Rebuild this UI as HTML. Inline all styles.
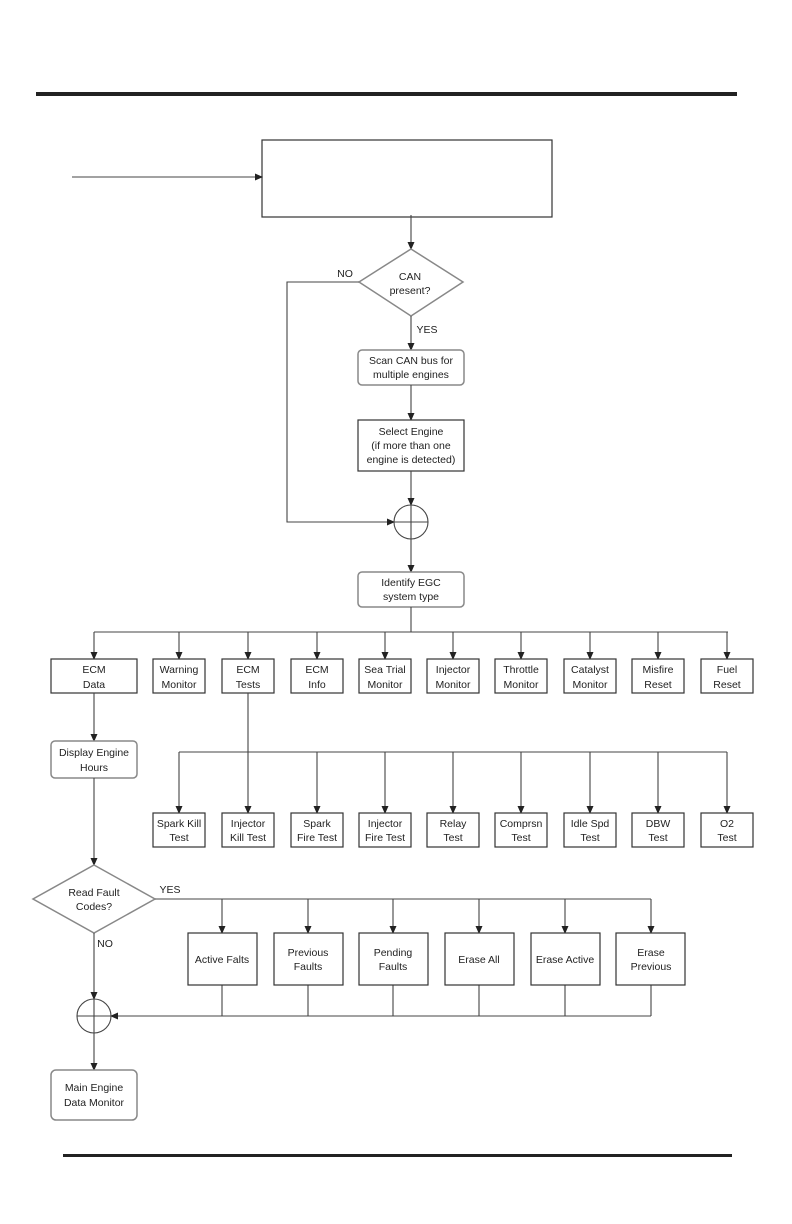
<!DOCTYPE html>
<html><head><meta charset="utf-8"><style>
html,body{margin:0;padding:0;background:#fff}
svg{display:block}
text{font-family:"Liberation Sans",sans-serif;font-size:10.5px;fill:#222;text-anchor:middle}
.b{fill:#fff;stroke:#333;stroke-width:1.2}
.r{fill:#fff;stroke:#888;stroke-width:1.5}
.l{stroke:#444;stroke-width:1.1;fill:none}
</style></head><body>
<svg width="792" height="1224" viewBox="0 0 792 1224" xmlns="http://www.w3.org/2000/svg">
<defs><marker id="a" markerWidth="8" markerHeight="8" refX="7" refY="4" orient="auto" markerUnits="userSpaceOnUse"><path d="M0,0.5 L8,4 L0,7.5z" fill="#222"/></marker></defs>
<rect x="36" y="92" width="701" height="4" fill="#222"/>
<rect x="63" y="1154" width="669" height="3" fill="#222"/>

<rect class="b" x="262" y="140" width="290" height="77"/>
<line class="l" x1="72" y1="177" x2="262" y2="177" marker-end="url(#a)"/>
<line class="l" x1="411" y1="215" x2="411" y2="249" marker-end="url(#a)"/>
<polygon class="r" points="411,249 463,282 411,316 359,282"/>
<text x="410" y="280">CAN</text><text x="410" y="294">present?</text>
<text x="345" y="277">NO</text>
<polyline class="l" points="359,282 287,282 287,522 394,522" marker-end="url(#a)"/>
<text x="427" y="333">YES</text>
<line class="l" x1="411" y1="316" x2="411" y2="350" marker-end="url(#a)"/>
<rect class="r" x="358" y="350" width="106" height="35" rx="4"/>
<text x="411" y="364">Scan CAN bus for</text><text x="411" y="378">multiple engines</text>
<line class="l" x1="411" y1="385" x2="411" y2="420" marker-end="url(#a)"/>
<rect class="b" x="358" y="420" width="106" height="51"/>
<text x="411" y="435">Select Engine</text><text x="411" y="449">(if more than one</text><text x="411" y="463">engine is detected)</text>
<line class="l" x1="411" y1="471" x2="411" y2="505" marker-end="url(#a)"/>
<circle class="l" cx="411" cy="522" r="17"/>
<line class="l" x1="394" y1="522" x2="428" y2="522"/>
<line class="l" x1="411" y1="505" x2="411" y2="539"/>
<line class="l" x1="411" y1="539" x2="411" y2="572" marker-end="url(#a)"/>
<rect class="r" x="358" y="572" width="106" height="35" rx="4"/>
<text x="411" y="586">Identify EGC</text><text x="411" y="600">system type</text>
<line class="l" x1="411" y1="607" x2="411" y2="632"/>
<line class="l" x1="94" y1="632" x2="728" y2="632"/>
<g class="l">
<line x1="94" y1="632" x2="94" y2="659" marker-end="url(#a)"/>
<line x1="179" y1="632" x2="179" y2="659" marker-end="url(#a)"/>
<line x1="248" y1="632" x2="248" y2="659" marker-end="url(#a)"/>
<line x1="317" y1="632" x2="317" y2="659" marker-end="url(#a)"/>
<line x1="385" y1="632" x2="385" y2="659" marker-end="url(#a)"/>
<line x1="453" y1="632" x2="453" y2="659" marker-end="url(#a)"/>
<line x1="521" y1="632" x2="521" y2="659" marker-end="url(#a)"/>
<line x1="590" y1="632" x2="590" y2="659" marker-end="url(#a)"/>
<line x1="658" y1="632" x2="658" y2="659" marker-end="url(#a)"/>
<line x1="727" y1="632" x2="727" y2="659" marker-end="url(#a)"/>
</g>
<rect class="b" x="51" y="659" width="86" height="34"/><text x="94" y="673">ECM</text><text x="94" y="688">Data</text>
<rect class="b" x="153" y="659" width="52" height="34"/><text x="179" y="673">Warning</text><text x="179" y="688">Monitor</text>
<rect class="b" x="222" y="659" width="52" height="34"/><text x="248" y="673">ECM</text><text x="248" y="688">Tests</text>
<rect class="b" x="291" y="659" width="52" height="34"/><text x="317" y="673">ECM</text><text x="317" y="688">Info</text>
<rect class="b" x="359" y="659" width="52" height="34"/><text x="385" y="673">Sea Trial</text><text x="385" y="688">Monitor</text>
<rect class="b" x="427" y="659" width="52" height="34"/><text x="453" y="673">Injector</text><text x="453" y="688">Monitor</text>
<rect class="b" x="495" y="659" width="52" height="34"/><text x="521" y="673">Throttle</text><text x="521" y="688">Monitor</text>
<rect class="b" x="564" y="659" width="52" height="34"/><text x="590" y="673">Catalyst</text><text x="590" y="688">Monitor</text>
<rect class="b" x="632" y="659" width="52" height="34"/><text x="658" y="673">Misfire</text><text x="658" y="688">Reset</text>
<rect class="b" x="701" y="659" width="52" height="34"/><text x="727" y="673">Fuel</text><text x="727" y="688">Reset</text>

<line class="l" x1="94" y1="693" x2="94" y2="741" marker-end="url(#a)"/>
<rect class="r" x="51" y="741" width="86" height="37" rx="4"/>
<text x="94" y="756">Display Engine</text><text x="94" y="771">Hours</text>
<line class="l" x1="248" y1="693" x2="248" y2="813" marker-end="url(#a)"/>
<line class="l" x1="179" y1="752" x2="727" y2="752"/>
<g class="l">
<line x1="179" y1="752" x2="179" y2="813" marker-end="url(#a)"/>
<line x1="317" y1="752" x2="317" y2="813" marker-end="url(#a)"/>
<line x1="385" y1="752" x2="385" y2="813" marker-end="url(#a)"/>
<line x1="453" y1="752" x2="453" y2="813" marker-end="url(#a)"/>
<line x1="521" y1="752" x2="521" y2="813" marker-end="url(#a)"/>
<line x1="590" y1="752" x2="590" y2="813" marker-end="url(#a)"/>
<line x1="658" y1="752" x2="658" y2="813" marker-end="url(#a)"/>
<line x1="727" y1="752" x2="727" y2="813" marker-end="url(#a)"/>
</g>
<rect class="b" x="153" y="813" width="52" height="34"/><text x="179" y="827">Spark Kill</text><text x="179" y="841">Test</text>
<rect class="b" x="222" y="813" width="52" height="34"/><text x="248" y="827">Injector</text><text x="248" y="841">Kill Test</text>
<rect class="b" x="291" y="813" width="52" height="34"/><text x="317" y="827">Spark</text><text x="317" y="841">Fire Test</text>
<rect class="b" x="359" y="813" width="52" height="34"/><text x="385" y="827">Injector</text><text x="385" y="841">Fire Test</text>
<rect class="b" x="427" y="813" width="52" height="34"/><text x="453" y="827">Relay</text><text x="453" y="841">Test</text>
<rect class="b" x="495" y="813" width="52" height="34"/><text x="521" y="827">Comprsn</text><text x="521" y="841">Test</text>
<rect class="b" x="564" y="813" width="52" height="34"/><text x="590" y="827">Idle Spd</text><text x="590" y="841">Test</text>
<rect class="b" x="632" y="813" width="52" height="34"/><text x="658" y="827">DBW</text><text x="658" y="841">Test</text>
<rect class="b" x="701" y="813" width="52" height="34"/><text x="727" y="827">O2</text><text x="727" y="841">Test</text>

<line class="l" x1="94" y1="778" x2="94" y2="865" marker-end="url(#a)"/>
<polygon class="r" points="94,865 155,899 94,933 33,899"/>
<text x="94" y="896">Read Fault</text><text x="94" y="910">Codes?</text>
<text x="170" y="893">YES</text>
<line class="l" x1="155" y1="899" x2="651" y2="899"/>
<g class="l">
<line x1="222" y1="899" x2="222" y2="933" marker-end="url(#a)"/>
<line x1="308" y1="899" x2="308" y2="933" marker-end="url(#a)"/>
<line x1="393" y1="899" x2="393" y2="933" marker-end="url(#a)"/>
<line x1="479" y1="899" x2="479" y2="933" marker-end="url(#a)"/>
<line x1="565" y1="899" x2="565" y2="933" marker-end="url(#a)"/>
<line x1="651" y1="899" x2="651" y2="933" marker-end="url(#a)"/>
<line x1="222" y1="985" x2="222" y2="1016"/>
<line x1="308" y1="985" x2="308" y2="1016"/>
<line x1="393" y1="985" x2="393" y2="1016"/>
<line x1="479" y1="985" x2="479" y2="1016"/>
<line x1="565" y1="985" x2="565" y2="1016"/>
<line x1="651" y1="985" x2="651" y2="1016"/>
</g>
<rect class="b" x="188" y="933" width="69" height="52"/><text x="222" y="963">Active Falts</text>
<rect class="b" x="274" y="933" width="69" height="52"/><text x="308" y="956">Previous</text><text x="308" y="970">Faults</text>
<rect class="b" x="359" y="933" width="69" height="52"/><text x="393" y="956">Pending</text><text x="393" y="970">Faults</text>
<rect class="b" x="445" y="933" width="69" height="52"/><text x="479" y="963">Erase All</text>
<rect class="b" x="531" y="933" width="69" height="52"/><text x="565" y="963">Erase Active</text>
<rect class="b" x="616" y="933" width="69" height="52"/><text x="651" y="956">Erase</text><text x="651" y="970">Previous</text>
<line class="l" x1="651" y1="1016" x2="111" y2="1016" marker-end="url(#a)"/>
<text x="105" y="947">NO</text>
<line class="l" x1="94" y1="933" x2="94" y2="999" marker-end="url(#a)"/>
<circle class="l" cx="94" cy="1016" r="17"/>
<line class="l" x1="77" y1="1016" x2="111" y2="1016"/>
<line class="l" x1="94" y1="999" x2="94" y2="1033"/>
<line class="l" x1="94" y1="1033" x2="94" y2="1070" marker-end="url(#a)"/>
<rect class="r" x="51" y="1070" width="86" height="50" rx="5"/>
<text x="94" y="1091">Main Engine</text><text x="94" y="1106">Data Monitor</text>
</svg>
</body></html>
